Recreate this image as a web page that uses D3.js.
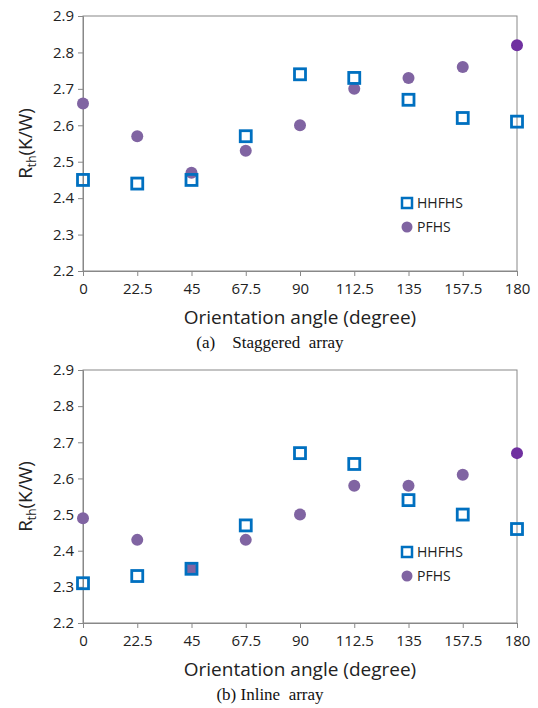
<!DOCTYPE html><html><head><meta charset="utf-8"><script src="https://cdn.jsdelivr.net/npm/d3@7"></script>
<style>body{margin:0;background:#fff}</style></head><body><svg id="c" width="538" height="708"></svg>
<script>
const angles=[0,22.5,45,67.5,90,112.5,135,157.5,180];
const tickLabels=["0","22.5","45","67.5","90","112.5","135","157.5","180"];
const yTicks=[2.2,2.3,2.4,2.5,2.6,2.7,2.8,2.9];
const stagHH=[2.45,2.44,2.45,2.57,2.74,2.73,2.67,2.62,2.61];
const stagPF=[2.66,2.57,2.47,2.53,2.60,2.70,2.73,2.76,2.82];
const inlHH=[2.31,2.33,2.35,2.47,2.67,2.64,2.54,2.50,2.46];
const inlPF=[2.49,2.43,2.35,2.43,2.50,2.58,2.58,2.61,2.67];
const svg=d3.select("#c");
function panel(top,bottom,hh,pf,caption,legY){
  const x=d3.scaleLinear().domain([0,180]).range([83,517]);
  const y=d3.scaleLinear().domain([2.2,2.9]).range([bottom,top]);
  const g=svg.append("g");
  g.append("rect").attr("x",83).attr("y",top).attr("width",434).attr("height",bottom-top).attr("fill","none").attr("stroke","#888").attr("stroke-width",1);
  const ya=g.append("g").attr("transform","translate(83,0)").call(d3.axisLeft(y).tickValues(yTicks).tickFormat(d3.format(".1f")).tickSize(5));
  const xa=g.append("g").attr("transform",`translate(0,${bottom})`).call(d3.axisBottom(x).tickValues(angles).tickFormat((d,i)=>tickLabels[i]).tickSize(5));
  [ya,xa].forEach(a=>{a.select(".domain").attr("stroke","#888");a.selectAll("line").attr("stroke","#888");a.selectAll("text").attr("font-family","'Open Sans',sans-serif").attr("font-size",15).attr("fill","#222");});
  ya.selectAll("text").attr("x",-9);
  xa.selectAll("text").attr("y",12);
  g.selectAll(".pf").data(pf).join("circle").attr("cx",(d,i)=>x(angles[i])).attr("cy",d=>y(d)).attr("r",6).attr("fill",(d,i)=>i===8?"#7030A0":"#8064A2");
  g.selectAll(".hh").data(hh).join("rect").attr("x",(d,i)=>x(angles[i])-5.5).attr("y",d=>y(d)-5.5).attr("width",11).attr("height",11).attr("fill","none").attr("stroke","#0070C0").attr("stroke-width",2.8);
  const lx=407;
  g.append("rect").attr("x",lx-5).attr("y",legY-5).attr("width",10).attr("height",10).attr("fill","none").attr("stroke","#0070C0").attr("stroke-width",2.5);
  g.append("text").attr("x",lx+10).attr("y",legY+5).text("HHFHS").attr("font-family","'Open Sans',sans-serif").attr("font-size",14).attr("fill","#222");
  g.append("circle").attr("cx",lx).attr("cy",legY+24).attr("r",5.5).attr("fill","#8064A2");
  g.append("text").attr("x",lx+10).attr("y",legY+29).text("PFHS").attr("font-family","'Open Sans',sans-serif").attr("font-size",14).attr("fill","#222");
  g.append("text").attr("x",300).attr("y",bottom+53).attr("text-anchor","middle").text("Orientation angle (degree)").attr("font-family","'Open Sans',sans-serif").attr("font-size",19).attr("fill","#222");
  const t=g.append("text").attr("transform",`translate(32,${(top+bottom)/2}) rotate(-90)`).attr("text-anchor","middle").attr("font-family","'Open Sans',sans-serif").attr("font-size",19).attr("fill","#222");
  t.append("tspan").text("R");t.append("tspan").text("th").attr("font-size",12).attr("dy",4);t.append("tspan").text("(K/W)").attr("dy",-4);
  g.append("text").attr("x",270).attr("y",bottom+77).attr("text-anchor","middle").text(caption).attr("font-family","'Liberation Serif',serif").attr("font-size",17).attr("fill","#111").attr("xml:space","preserve");
}
panel(16,271,stagHH,stagPF,"(a)    Staggered  array",203);
panel(370,623,inlHH,inlPF,"(b) Inline  array",552);
</script></body></html>
